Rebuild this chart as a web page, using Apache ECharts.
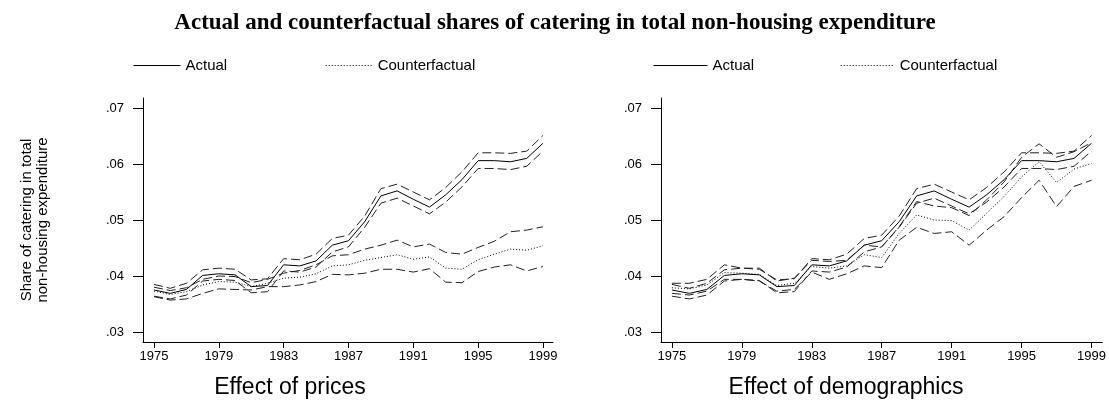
<!DOCTYPE html>
<html>
<head>
<meta charset="utf-8">
<script src="https://cdn.jsdelivr.net/npm/echarts@6/dist/echarts.min.js"></script>
<style>
  html, body { margin: 0; padding: 0; background: #fff; }
  #chart { width: 1109px; height: 404px; }
</style>
</head>
<body>
<div id="chart"></div>
<script>
// Years covered by the survey series
const years = [1975,1976,1977,1978,1979,1980,1981,1982,1983,1984,1985,1986,1987,
               1988,1989,1990,1991,1992,1993,1994,1995,1996,1997,1998,1999];

// Actual share of catering (same in both panels) with confidence bounds
const actual      = [.0375,.0369,.0376,.0401,.0404,.0402,.0381,.0383,.0420,.0418,.0427,.0455,.0463,
                     .0497,.0543,.0552,.0537,.0523,.0545,.0572,.0606,.0606,.0604,.0610,.0637];
const actualUpper = [.0385,.0378,.0387,.0411,.0414,.0412,.0393,.0395,.0431,.0429,.0439,.0467,.0473,
                     .0507,.0556,.0564,.0550,.0536,.0558,.0586,.0620,.0620,.0619,.0623,.0651];
const actualLower = [.0364,.0359,.0366,.0391,.0394,.0392,.0370,.0372,.0409,.0407,.0416,.0443,.0452,
                     .0487,.0530,.0539,.0525,.0511,.0532,.0559,.0592,.0592,.0590,.0596,.0623];

// Counterfactual share holding prices fixed
const pricesCf      = [.0373,.0367,.0372,.0384,.0390,.0389,.0381,.0387,.0396,.0398,.0404,.0418,.0420,
                       .0428,.0433,.0438,.0430,.0434,.0414,.0412,.0429,.0439,.0448,.0446,.0454];
const pricesCfUpper = [.0380,.0374,.0379,.0394,.0400,.0399,.0388,.0394,.0405,.0410,.0420,.0436,.0438,
                       .0448,.0455,.0464,.0452,.0457,.0442,.0439,.0451,.0462,.0479,.0482,.0488];
const pricesCfLower = [.0363,.0357,.0359,.0369,.0377,.0376,.0375,.0381,.0381,.0384,.0390,.0403,.0402,
                       .0405,.0412,.0412,.0407,.0413,.0389,.0388,.0408,.0416,.0420,.0409,.0417];

// Counterfactual share holding demographics fixed
const demoCf      = [.0379,.0377,.0384,.0406,.0405,.0403,.0383,.0387,.0417,.0414,.0418,.0438,.0433,
                     .0476,.0509,.0500,.0499,.0482,.0512,.0542,.0577,.0604,.0567,.0591,.0601];
const demoCfUpper = [.0387,.0387,.0394,.0420,.0414,.0414,.0391,.0396,.0428,.0426,.0428,.0455,.0452,
                     .0488,.0533,.0525,.0522,.0508,.0536,.0568,.0612,.0636,.0612,.0622,.0638];
const demoCfLower = [.0369,.0366,.0373,.0394,.0394,.0391,.0373,.0376,.0407,.0394,.0404,.0418,.0415,
                     .0464,.0487,.0476,.0479,.0455,.0482,.0506,.0540,.0571,.0524,.0560,.0571];

// Tick labels
const xTicks = [1975,1979,1983,1987,1991,1995,1999];
const yTicks = [0.03,0.04,0.05,0.06,0.07];

const pairs = vals => years.map((y, i) => [y, vals[i]]);
const FONT = 'Liberation Sans, Arial, sans-serif';
const INK = '#000';

function line(name, vals, panel, kind) {
  const style = { color: INK, width: 1, type: 'solid' };
  if (kind === 'dash') { style.type = [9, 4]; style.color = '#222'; }
  if (kind === 'dot')  { style.type = [1, 2]; }
  return {
    type: 'line', name, data: pairs(vals),
    xAxisIndex: panel, yAxisIndex: panel,
    symbol: 'none', silent: true, animation: false,
    itemStyle: { color: INK },
    lineStyle: style
  };
}

function xAxis(panel, min, max) {
  return {
    type: 'value', gridIndex: panel, min, max,
    axisLine: { show: true, lineStyle: { color: INK, width: 1 } },
    axisTick: { show: true, length: 6, customValues: xTicks, lineStyle: { color: INK } },
    axisLabel: { customValues: xTicks, color: INK, fontFamily: FONT, fontSize: 13, margin: 8,
                 formatter: v => String(v) },
    splitLine: { show: false }
  };
}

function yAxis(panel, withName) {
  const ax = {
    type: 'value', gridIndex: panel, min: 0.028214, max: 0.071786,
    axisLine: { show: true, lineStyle: { color: INK, width: 1 } },
    axisTick: { show: true, length: 10, customValues: yTicks, lineStyle: { color: INK } },
    axisLabel: { customValues: yTicks, color: INK, fontFamily: FONT, fontSize: 13, margin: 19,
                 formatter: v => v.toFixed(2).replace(/^0/, '') },
    splitLine: { show: false }
  };
  if (withName) {
    ax.name = 'Share of catering in total\nnon-housing expenditure';
    ax.nameLocation = 'middle';
    ax.nameGap = 92;
    ax.nameTextStyle = { color: INK, fontFamily: FONT, fontSize: 15, lineHeight: 16 };
  }
  return ax;
}

// Legend entries: thin line sample only, no marker
function legend(left, iconW, gap) {
  return {
    left, top: 58, orient: 'horizontal', padding: 0,
    data: ['Actual', 'Counterfactual'],
    itemWidth: iconW, itemHeight: 14, itemGap: gap,
    itemStyle: { opacity: 0 },
    lineStyle: { width: 1 },
    textStyle: { color: INK, fontFamily: FONT, fontSize: 15 },
    selectedMode: false
  };
}

const chart = echarts.init(document.getElementById('chart'), null, { renderer: 'canvas' });
chart.setOption({
  backgroundColor: '#fff',
  animation: false,
  title: [
    { text: 'Actual and counterfactual shares of catering in total non-housing expenditure',
      left: 555, top: 12, textAlign: 'center', padding: 0,
      textStyle: { fontFamily: 'Liberation Serif, Times New Roman, serif', fontWeight: 'bold',
                   fontSize: 23, color: INK } },
    { text: 'Effect of prices', left: 290, top: 376, textAlign: 'center', padding: 0,
      textStyle: { fontFamily: FONT, fontWeight: 'normal', fontSize: 23, color: INK } },
    { text: 'Effect of demographics', left: 846, top: 376, textAlign: 'center', padding: 0,
      textStyle: { fontFamily: FONT, fontWeight: 'normal', fontSize: 23, color: INK } }
  ],
  legend: [legend(133, 47, 98), legend(653, 54, 86)],
  grid: [
    { left: 143, top: 98, width: 410, height: 244 },
    { left: 661, top: 98, width: 446, height: 244 }
  ],
  xAxis: [xAxis(0, 1974.32, 1999.62), xAxis(1, 1974.377, 1999.62)],
  yAxis: [yAxis(0, true), yAxis(1, false)],
  series: [
    line('Actual', actual, 0, 'solid'),
    line('Actual upper', actualUpper, 0, 'dash'),
    line('Actual lower', actualLower, 0, 'dash'),
    line('Counterfactual', pricesCf, 0, 'dot'),
    line('Counterfactual upper', pricesCfUpper, 0, 'dash'),
    line('Counterfactual lower', pricesCfLower, 0, 'dash'),
    line('Actual', actual, 1, 'solid'),
    line('Actual upper', actualUpper, 1, 'dash'),
    line('Actual lower', actualLower, 1, 'dash'),
    line('Counterfactual', demoCf, 1, 'dot'),
    line('Counterfactual upper', demoCfUpper, 1, 'dash'),
    line('Counterfactual lower', demoCfLower, 1, 'dash')
  ]
});
</script>
</body>
</html>
